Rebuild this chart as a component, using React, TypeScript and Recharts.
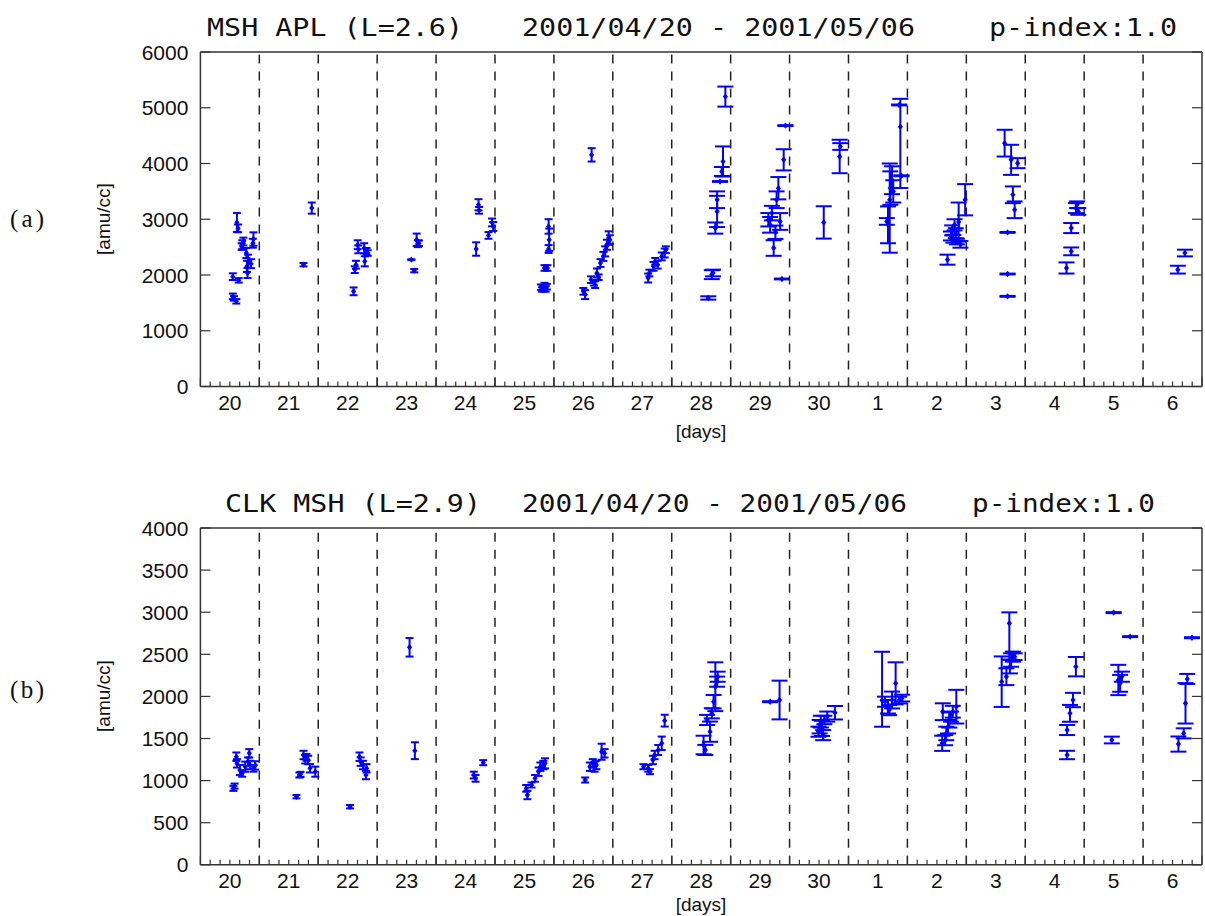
import React from 'react'
import { ScatterChart, Scatter, XAxis, YAxis, ErrorBar, ReferenceLine } from 'recharts'

// [day offset from Apr 20 00:00, density, error (± or [low, high])]
type Pt = [number, number, number | [number, number]]

const dayLabels = ['20', '21', '22', '23', '24', '25', '26', '27', '28', '29', '30', '1', '2', '3', '4', '5', '6']
const aplTicks = [0, 1000, 2000, 3000, 4000, 5000, 6000]
const clkTicks = [0, 500, 1000, 1500, 2000, 2500, 3000, 3500, 4000]

// MSH-APL, Apr 20-27 (narrow caps)
const aplNarrow: Pt[] = [
    [0.55, 1617, 50], [0.57, 1580, 40], [0.61, 1528, 40], [0.55, 1970, 60], [0.65, 1904, 40],
    [0.62, 2943, 170], [0.64, 2836, 70], [0.71, 2543, 80], [0.73, 2600, 70], [0.70, 2510, 60],
    [0.78, 2394, 90], [0.81, 2245, 120], [0.79, 2155, 100], [0.80, 2036, 90], [0.86, 2203, 80],
    [0.90, 2645, 120], [0.89, 2570, 80],
    [1.75, 2185, 30], [1.89, 3200, 100],
    [2.60, 1707, 70], [2.62, 2096, 60], [2.64, 2185, 70], [2.67, 2543, 80], [2.68, 2460, 70],
    [2.79, 2245, 90], [2.78, 2480, 90], [2.82, 2424, 60], [2.84, 2394, 50],
    [3.58, 2275, 8], [3.63, 2078, 30], [3.67, 2633, 110], [3.69, 2560, 60], [3.71, 2570, 50],
    [4.68, 2466, 120], [4.72, 3260, 100], [4.73, 3160, 60], [4.89, 2710, 60], [4.95, 2943, 70], [4.97, 2870, 80],
    [5.78, 1780, 50], [5.80, 1740, 40], [5.82, 1760, 50], [5.84, 1800, 60], [5.86, 1750, 50], [5.88, 1790, 50],
    [5.84, 2126, 50], [5.89, 2126, 50], [5.91, 2871, 130], [5.92, 2633, 200], [5.91, 2466, 70],
    [6.50, 1707, 60], [6.53, 1648, 80], [6.64, 4155, 120], [6.63, 1916, 60], [6.68, 1860, 50],
    [6.70, 1827, 60], [6.73, 2036, 80], [6.76, 1960, 50], [6.79, 2215, 70], [6.84, 2334, 80],
    [6.87, 2424, 90], [6.90, 2543, 90], [6.93, 2663, 120], [6.95, 2633, 80],
    [7.60, 1946, 80], [7.62, 2036, 60], [7.69, 2155, 80], [7.72, 2245, 60], [7.76, 2185, 70],
    [7.83, 2334, 70], [7.88, 2394, 80], [7.90, 2454, 60],
]

// MSH-APL, Apr 28 - May 6 (wide caps)
const aplWide: Pt[] = [
    [8.62, 1588, 30], [8.68, 2006, 80], [8.70, 2036, 60], [8.74, 2842, 100], [8.77, 3140, 280],
    [8.77, 3350, 150], [8.82, 3677, 8], [8.85, 3857, 80], [8.87, 4036, 270], [8.91, 5200, 180],
    [9.64, 2991, 120], [9.67, 2900, 140], [9.70, 3110, 130], [9.73, 2484, 140], [9.76, 2767, 120],
    [9.78, 3350, 150], [9.81, 3557, 200], [9.84, 2960, 150], [9.87, 1929, 8], [9.90, 4066, 190], [9.93, 4680, 8],
    [10.58, 2943, 290], [10.85, 4126, 300], [10.86, 4305, 60],
    [11.65, 2961, 60], [11.67, 2900, 330], [11.70, 3350, [950, 650]], [11.71, 3559, 300],
    [11.74, 3700, 250], [11.76, 3500, 200], [11.88, 4660, [1100, 500]], [11.86, 5050, 8], [11.90, 3780, 8],
    [12.68, 2275, 90], [12.74, 2700, 80], [12.76, 2800, 90], [12.78, 2650, 70], [12.80, 2900, 100],
    [12.82, 2750, 90], [12.84, 2600, 50], [12.90, 2550, 60], [12.87, 2950, 350], [12.98, 3350, 280],
    [13.65, 4365, 240], [13.70, 2764, 8], [13.70, 2018, 8], [13.70, 1617, 8], [13.76, 4066, 270],
    [13.79, 3439, 150], [13.82, 3170, 150], [13.87, 4006, 90],
    [14.70, 2126, 100], [14.78, 2424, 70], [14.78, 2842, 90], [14.86, 3200, 90], [14.88, 3260, 60], [14.90, 3140, 60],
    [16.59, 2096, 70], [16.71, 2394, 60],
]

// CLK-MSH, Apr 20-27 (narrow caps)
const clkNarrow: Pt[] = [
    [0.56, 908, 30], [0.58, 935, 30], [0.61, 1284, 50], [0.62, 1205, 50], [0.67, 1126, 60],
    [0.71, 1086, 40], [0.76, 1165, 60], [0.81, 1225, 50], [0.83, 1324, 50], [0.84, 1185, 50],
    [0.90, 1146, 40], [0.93, 1180, 50],
    [1.63, 809, 20], [1.68, 1066, 30], [1.70, 1074, 30], [1.75, 1304, 50], [1.78, 1253, 50],
    [1.80, 1277, 40], [1.83, 1245, 50], [1.86, 1146, 50], [1.95, 1106, 60],
    [2.54, 690, 20], [2.70, 1284, 50], [2.72, 1225, 50], [2.76, 1185, 50], [2.82, 1146, 50], [2.81, 1066, 50],
    [3.55, 2583, 110], [3.64, 1355, 100],
    [4.64, 1066, 40], [4.67, 1027, 40], [4.80, 1213, 30],
    [5.53, 908, 40], [5.55, 829, 50], [5.62, 948, 30], [5.68, 1027, 40], [5.74, 1106, 50],
    [5.77, 1165, 50], [5.82, 1185, 50], [5.85, 1205, 60],
    [6.53, 1007, 30], [6.61, 1165, 50], [6.66, 1205, 50], [6.69, 1165, 60], [6.72, 1185, 50],
    [6.81, 1343, 95], [6.86, 1324, 50],
    [7.52, 1165, 30], [7.60, 1146, 40], [7.63, 1106, 30], [7.68, 1245, 50], [7.71, 1304, 50],
    [7.77, 1363, 60], [7.83, 1443, 80], [7.88, 1712, 70],
]

// CLK-MSH, Apr 28 - May 6 (wide caps)
const clkWide: Pt[] = [
    [8.54, 1423, 110], [8.57, 1364, 60], [8.60, 1720, 60], [8.65, 1581, 120], [8.68, 1799, 60],
    [8.71, 1937, 80], [8.74, 2115, 290], [8.77, 2175, 60], [8.78, 2234, 60],
    [9.67, 1937, 6], [9.83, 1957, 230],
    [10.49, 1581, 60], [10.51, 1640, 80], [10.53, 1700, 70], [10.55, 1620, 90], [10.57, 1540, 60],
    [10.59, 1720, 50], [10.64, 1760, 60], [10.77, 1806, 80],
    [11.57, 1950, [310, 580]], [11.62, 1937, 60], [11.67, 1877, 80], [11.69, 1837, 60],
    [11.74, 1957, 100], [11.80, 2155, 250], [11.86, 1957, 40], [11.91, 1980, 40],
    [12.59, 1443, 90], [12.64, 1480, 60], [12.60, 1818, 100], [12.66, 1560, 80], [12.69, 1640, 80],
    [12.71, 1720, 90], [12.74, 1760, 60], [12.77, 1818, 70], [12.83, 1878, 200],
    [13.60, 2175, 300], [13.68, 2234, 100], [13.73, 2868, [430, 130]], [13.74, 2353, 80],
    [13.76, 2432, 80], [13.79, 2472, 60], [13.82, 2472, 40],
    [14.71, 1304, 50], [14.71, 1601, 60], [14.76, 1799, 100], [14.81, 1957, 85], [14.86, 2353, 115],
    [15.47, 1482, 40], [15.50, 2995, 6], [15.58, 2195, 180], [15.61, 2155, 100], [15.64, 2234, 60], [15.78, 2710, 6],
    [16.60, 1434, 90], [16.69, 1561, 60], [16.72, 1918, 240], [16.75, 2207, 60], [16.83, 2697, 6],
]

const BLUE = '#0000ff'
const AXIS = '#333333'
const SANS = '"Liberation Sans", Arial, sans-serif'
const TITLE_FONT = '"DejaVu Sans Mono", "Liberation Mono", monospace'

const nDays = dayLabels.length
// tick marks every 4 hours, longer at day boundaries
const minorTicks = Array.from({ length: nDays * 6 + 1 }, (_, i) => i / 6)
const dayBounds = dayLabels.slice(1).map((_, i) => i + 1)

const toRows = (pts: Pt[]) => pts.map(([x, y, err]) => ({ x, y, err }))

const BottomTick = (props: any) => {
    const { x, y, payload } = props
    const i = Math.round(payload.value * 6)
    const len = i % 6 === 0 ? 9 : 5
    const label = i % 6 === 3 ? dayLabels[(i - 3) / 6] : null
    return (
        <g>
            <line x1={x} x2={x} y1={y} y2={y - len} stroke={AXIS} strokeWidth={1.2} />
            {label && (
                <text x={x} y={y + 23.5} textAnchor="middle" fontSize={21} fill="#111" fontFamily={SANS}>
                    {label}
                </text>
            )}
        </g>
    )
}

const TopTick = (props: any) => {
    const { x, y, payload } = props
    const i = Math.round(payload.value * 6)
    const len = i % 6 === 0 ? 9 : 5
    return <line x1={x} x2={x} y1={y} y2={y + len} stroke={AXIS} strokeWidth={1.2} />
}

const LeftTick = (props: any) => {
    const { x, y, payload } = props
    return (
        <g>
            <line x1={x} x2={x + 10} y1={y} y2={y} stroke={AXIS} strokeWidth={1.2} />
            <text x={x - 12} y={y + 7.5} textAnchor="end" fontSize={21} fill="#111" fontFamily={SANS}>
                {payload.value}
            </text>
        </g>
    )
}

const RightTick = (props: any) => {
    const { x, y } = props
    return <line x1={x} x2={x - 10} y1={y} y2={y} stroke={AXIS} strokeWidth={1.2} />
}

const Dot = (props: any) => {
    const { cx, cy } = props
    if (cx == null || cy == null) return <g />
    return <path d={`M${cx},${cy - 3.2}L${cx + 2.6},${cy}L${cx},${cy + 3.2}L${cx - 2.6},${cy}Z`} fill={BLUE} />
}

interface PanelProps {
    narrow: Pt[]
    wide: Pt[]
    yTicks: number[]
    height: number
    plotTop: number
    plotBottom: number
}

// axes take 1px each; plot area runs x 200.4 .. 1202
function Panel({ narrow, wide, yTicks, height, plotTop, plotBottom }: PanelProps) {
    const yMax = yTicks[yTicks.length - 1]
    const axisLine = { stroke: AXIS, strokeWidth: 1.5 }
    return (
        <ScatterChart
            width={1205}
            height={height}
            margin={{ top: plotTop - 1, right: 2, bottom: height - plotBottom - 1, left: 199.4 }}
        >
            <XAxis
                xAxisId="bottom"
                dataKey="x"
                type="number"
                domain={[0, nDays]}
                ticks={minorTicks}
                interval={0}
                height={1}
                tickSize={0}
                tickMargin={0}
                tickLine={false}
                tick={<BottomTick />}
                axisLine={axisLine}
                allowDataOverflow
            />
            <XAxis
                xAxisId="top"
                orientation="top"
                type="number"
                domain={[0, nDays]}
                ticks={minorTicks}
                interval={0}
                height={1}
                tickSize={0}
                tickMargin={0}
                tickLine={false}
                tick={<TopTick />}
                axisLine={axisLine}
                allowDataOverflow
            />
            <YAxis
                yAxisId="left"
                dataKey="y"
                type="number"
                domain={[0, yMax]}
                ticks={yTicks}
                interval={0}
                width={1}
                tickSize={0}
                tickMargin={0}
                tickLine={false}
                tick={<LeftTick />}
                axisLine={axisLine}
                allowDataOverflow
            />
            <YAxis
                yAxisId="right"
                orientation="right"
                type="number"
                domain={[0, yMax]}
                ticks={yTicks}
                interval={0}
                width={1}
                tickSize={0}
                tickMargin={0}
                tickLine={false}
                tick={<RightTick />}
                axisLine={axisLine}
                allowDataOverflow
            />
            {dayBounds.map((b) => (
                <ReferenceLine
                    key={`b-${b}`}
                    x={b}
                    xAxisId="bottom"
                    yAxisId="left"
                    stroke="#222"
                    strokeWidth={1.5}
                    strokeDasharray="9 8"
                />
            ))}
            <Scatter
                data={toRows(narrow)}
                xAxisId="bottom"
                yAxisId="left"
                fill={BLUE}
                shape={<Dot />}
                isAnimationActive={false}
            >
                <ErrorBar dataKey="err" direction="y" width={4} stroke={BLUE} strokeWidth={2} isAnimationActive={false} />
            </Scatter>
            <Scatter
                data={toRows(wide)}
                xAxisId="bottom"
                yAxisId="left"
                fill={BLUE}
                shape={<Dot />}
                isAnimationActive={false}
            >
                <ErrorBar dataKey="err" direction="y" width={8} stroke={BLUE} strokeWidth={2} isAnimationActive={false} />
            </Scatter>
        </ScatterChart>
    )
}

const titleProps = {
    fontFamily: TITLE_FONT,
    fontSize: 25,
    fill: '#111',
    lengthAdjust: 'spacingAndGlyphs' as const,
}

export default function App() {
    return (
        <div style={{ position: 'absolute', left: 0, top: 0, width: 1205, height: 916, background: '#fff' }}>
            <div style={{ position: 'absolute', left: 0, top: 0 }}>
                <Panel narrow={aplNarrow} wide={aplWide} yTicks={aplTicks} height={460} plotTop={52} plotBottom={386.5} />
            </div>
            <div style={{ position: 'absolute', left: 0, top: 470 }}>
                <Panel narrow={clkNarrow} wide={clkWide} yTicks={clkTicks} height={446} plotTop={58} plotBottom={394.8} />
            </div>
            <svg
                width={1205}
                height={916}
                style={{ position: 'absolute', left: 0, top: 0, pointerEvents: 'none' }}
            >
                <text x={207} y={36} textLength={256} {...titleProps}>MSH APL (L=2.6)</text>
                <text x={522} y={36} textLength={393} {...titleProps}>2001/04/20 - 2001/05/06</text>
                <text x={989} y={36} textLength={188} {...titleProps}>p-index:1.0</text>

                <text x={225} y={512} textLength={256} {...titleProps}>CLK MSH (L=2.9)</text>
                <text x={522} y={512} textLength={385} {...titleProps}>2001/04/20 - 2001/05/06</text>
                <text x={972} y={512} textLength={183} {...titleProps}>p-index:1.0</text>

                <text x={10} y={227} textLength={34} fontSize={25} fontFamily='"Liberation Serif", serif' fill="#111">(a)</text>
                <text x={10} y={698} textLength={34} fontSize={25} fontFamily='"Liberation Serif", serif' fill="#111">(b)</text>

                <text x={110} y={219} transform="rotate(-90 110 219)" textAnchor="middle" fontSize={19} fontFamily={SANS} fill="#111">[amu/cc]</text>
                <text x={110} y={696} transform="rotate(-90 110 696)" textAnchor="middle" fontSize={19} fontFamily={SANS} fill="#111">[amu/cc]</text>

                <text x={701} y={438} textAnchor="middle" fontSize={19} fontFamily={SANS} fill="#111">[days]</text>
                <text x={701} y={911} textAnchor="middle" fontSize={19} fontFamily={SANS} fill="#111">[days]</text>
            </svg>
        </div>
    )
}
